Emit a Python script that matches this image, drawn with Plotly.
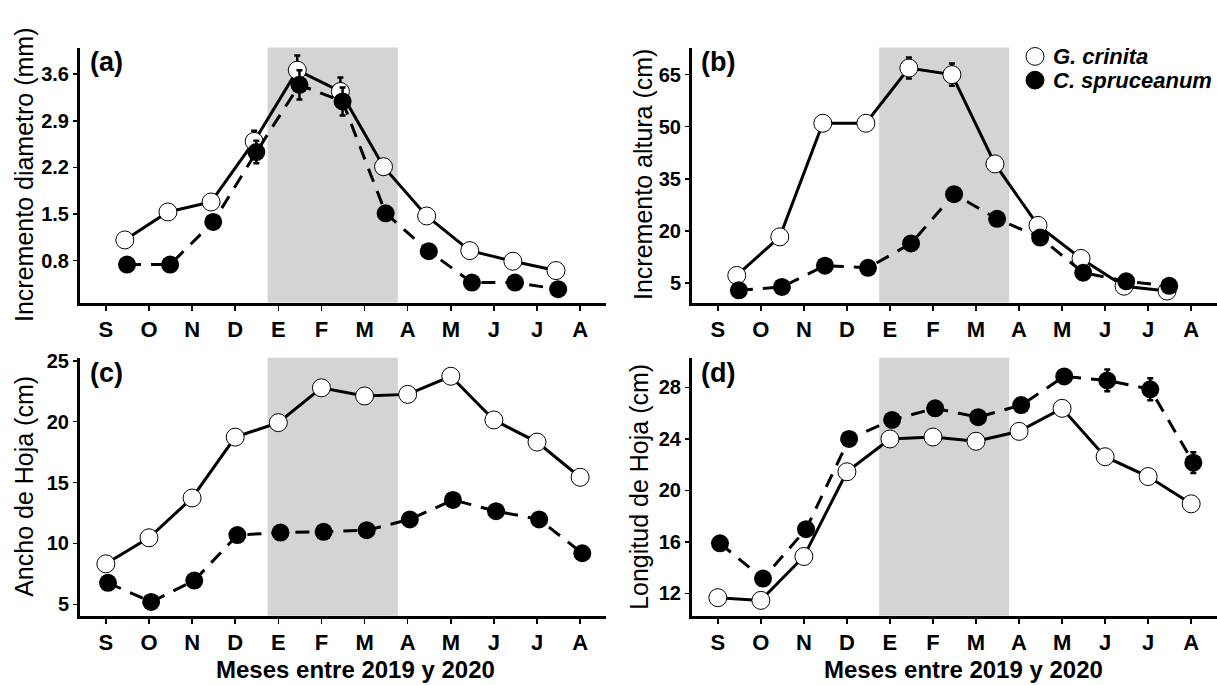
import plotly.graph_objects as go

W, H = 1217, 685

# ---------------- data ----------------
meses = ["S", "O", "N", "D", "E", "F", "M", "A", "M", "J", "J", "A"]

# (a) Incremento diametro (mm) - 11 monthly increments
gc_diam = [1.11, 1.53, 1.68, 2.59, 3.66, 3.34, 2.21, 1.47, 0.95, 0.79, 0.65]
cs_diam = [0.74, 0.74, 1.38, 2.43, 3.44, 3.19, 1.51, 0.94, 0.47, 0.47, 0.37]
gc_diam_se = [0.04, 0.04, 0.05, 0.16, 0.22, 0.21, 0.06, 0.05, 0.04, 0.03, 0.03]
cs_diam_se = [0.04, 0.04, 0.06, 0.17, 0.22, 0.21, 0.07, 0.08, 0.05, 0.05, 0.05]

# (b) Incremento altura (cm)
gc_alt = [7.2, 18.3, 51.0, 51.0, 66.9, 65.0, 39.3, 21.6, 12.1, 4.1, 2.7]
cs_alt = [2.9, 3.9, 10.0, 9.4, 16.4, 30.6, 23.5, 18.1, 8.0, 5.5, 4.2]
gc_alt_se = [0.8, 1.0, 1.0, 1.0, 3.0, 3.2, 1.2, 1.0, 0.8, 0.5, 0.5]
cs_alt_se = [0.5, 0.6, 0.8, 0.8, 1.0, 1.2, 1.0, 1.0, 0.8, 0.6, 0.6]

# (c) Ancho de Hoja (cm)
gc_ancho = [8.32, 10.46, 13.73, 18.73, 19.92, 22.78, 22.11, 22.24, 23.73, 20.14, 18.32, 15.43]
cs_ancho = [6.76, 5.19, 6.95, 10.68, 10.89, 10.95, 11.08, 11.97, 13.57, 12.65, 11.97, 9.19]
gc_ancho_se = [0.2, 0.2, 0.2, 0.2, 0.2, 0.2, 0.2, 0.2, 0.2, 0.2, 0.2, 0.2]
cs_ancho_se = [0.3, 0.3, 0.3, 0.3, 0.3, 0.3, 0.3, 0.3, 0.3, 0.3, 0.3, 0.3]

# (d) Longitud de Hoja (cm)
gc_long = [11.67, 11.46, 14.87, 21.45, 24.0, 24.15, 23.82, 24.59, 26.38, 22.62, 21.08, 18.96]
cs_long = [15.89, 13.15, 16.99, 24.0, 25.48, 26.38, 25.69, 26.63, 28.86, 28.55, 27.86, 22.16]
gc_long_se = [0.2, 0.2, 0.2, 0.2, 0.2, 0.2, 0.2, 0.2, 0.2, 0.2, 0.2, 0.2]
cs_long_se = [0.3, 0.3, 0.3, 0.3, 0.3, 0.3, 0.3, 0.3, 0.5, 0.85, 0.85, 0.8]

# shaded season (month index)
shade_start, shade_end = 3.75, 6.77

# ---------------- helpers ----------------
FONT = "Arial, Liberation Sans, sans-serif"


def px(x):
    return x / W


def py(y):
    return 1 - y / H


panels = [
    dict(lab="(a)", sfx="", xdom=(80, 606), ydom=(40, 298), yr=(0.17, 4.0),
         yt=[0.8, 1.5, 2.2, 2.9, 3.6], title="Incremento diametro (mm)",
         gc=gc_diam, cs=cs_diam, gse=gc_diam_se, cse=cs_diam_se,
         off=(0.44, 0.49), ytx=24, labx=88, xtitle=False),
    dict(lab="(b)", sfx="2", xdom=(692, 1217), ydom=(40, 298), yr=(-0.6, 72.8),
         yt=[5, 20, 35, 50, 65], title="Incremento altura (cm)",
         gc=gc_alt, cs=cs_alt, gse=gc_alt_se, cse=cs_alt_se,
         off=(0.44, 0.49), ytx=643, labx=699, xtitle=False),
    dict(lab="(c)", sfx="3", xdom=(80, 606), ydom=(354, 615), yr=(4.05, 25.24),
         yt=[5, 10, 15, 20, 25], title="Ancho de Hoja (cm)",
         gc=gc_ancho, cs=cs_ancho, gse=gc_ancho_se, cse=cs_ancho_se,
         off=(0.0, 0.05), ytx=24, labx=88, xtitle=True, xtc=355),
    dict(lab="(d)", sfx="4", xdom=(692, 1217), ydom=(354, 615), yr=(10.26, 30.3),
         yt=[12, 16, 20, 24, 28], title="Longitud de Hoja (cm)",
         gc=gc_long, cs=cs_long, gse=gc_long_se, cse=cs_long_se,
         off=(0.0, 0.05), ytx=639, labx=699, xtitle=True, xtc=963),
]

fig = go.Figure()
layout = dict(
    width=W, height=H, margin=dict(l=0, r=0, t=0, b=0),
    paper_bgcolor="white", plot_bgcolor="white", showlegend=False,
    font=dict(family=FONT, color="black"),
)
shapes = []
annotations = []

for p in panels:
    s = p["sfx"]
    xa, ya = "x" + s, "y" + s
    n = len(p["gc"])
    x_gc = [i + p["off"][0] for i in range(n)]
    x_cs = [i + p["off"][1] for i in range(n)]

    fig.add_trace(go.Scatter(
        x=x_gc, y=p["gc"], xaxis=xa, yaxis=ya, mode="lines+markers",
        name="G. crinita",
        line=dict(color="black", width=3),
        marker=dict(symbol="circle", size=18, color="white",
                    line=dict(color="black", width=1)),
        error_y=dict(type="data", array=p["gse"], color="black", thickness=2.5, width=3),
    ))
    fig.add_trace(go.Scatter(
        x=x_cs, y=p["cs"], xaxis=xa, yaxis=ya, mode="lines+markers",
        name="C. spruceanum",
        line=dict(color="black", width=3, dash="14px,10px"),
        marker=dict(symbol="circle", size=18, color="black",
                    line=dict(color="black", width=0)),
        error_y=dict(type="data", array=p["cse"], color="black", thickness=2.5, width=3),
    ))

    layout["xaxis" + s] = dict(
        domain=[px(p["xdom"][0]), px(p["xdom"][1])], anchor=ya,
        range=[-0.6, 11.6], tickvals=list(range(12)), ticktext=meses,
        showgrid=False, zeroline=False, showline=True, linecolor="black", linewidth=3,
        ticks="outside", ticklen=5, tickwidth=1.5, tickcolor="black",
        tickfont=dict(family=FONT, size=22, color="black", weight="bold"),
        fixedrange=True,
    )
    layout["yaxis" + s] = dict(
        domain=[py(p["ydom"][1]), py(p["ydom"][0])], anchor=xa,
        range=list(p["yr"]), tickvals=p["yt"],
        showgrid=False, zeroline=False, showline=True, linecolor="black", linewidth=3,
        ticks="outside", ticklen=4, tickwidth=1.5, tickcolor="black",
        tickfont=dict(family=FONT, size=20, color="black", weight="bold"),
        fixedrange=True,
    )

    shapes.append(dict(
        type="rect", xref=xa, yref=ya + " domain",
        x0=shade_start, x1=shade_end, y0=0, y1=1,
        fillcolor="#d4d4d4", line=dict(width=0), layer="below",
    ))

    annotations.append(dict(
        text="<b>" + p["lab"] + "</b>", xref="paper", yref="paper",
        x=px(p["labx"]), y=py(p["ydom"][0] + 15), xanchor="left", yanchor="middle",
        showarrow=False, font=dict(family=FONT, size=27, color="black"),
    ))
    annotations.append(dict(
        text=p["title"], xref="paper", yref="paper", textangle=-90,
        x=px(p["ytx"]), y=py((p["ydom"][0] + p["ydom"][1]) / 2),
        xanchor="center", yanchor="middle", showarrow=False,
        font=dict(family=FONT, size=25, color="black"),
    ))
    if p["xtitle"]:
        annotations.append(dict(
            text="<b>Meses entre 2019 y 2020</b>", xref="paper", yref="paper",
            x=px(p["xtc"]), y=py(669), xanchor="center", yanchor="middle",
            showarrow=False, font=dict(family=FONT, size=24, color="black"),
        ))

# legend (manual) in panel (b)
leg_items = [("G. crinita", "white", 49), ("C. spruceanum", "black", 73)]
r = 9
for name, fill, yc in leg_items:
    shapes.append(dict(
        type="circle", xref="paper", yref="paper",
        x0=px(1035 - r), x1=px(1035 + r), y0=py(yc + r), y1=py(yc - r),
        fillcolor=fill, line=dict(color="black", width=1), layer="above",
    ))
    annotations.append(dict(
        text="<b><i>" + name + "</i></b>", xref="paper", yref="paper",
        x=px(1051), y=py(yc), xanchor="left", yanchor="middle", showarrow=False,
        font=dict(family=FONT, size=22, color="black"),
    ))

layout["shapes"] = shapes
layout["annotations"] = annotations
fig.update_layout(**layout)

fig.write_html(
    "out.html",
    config=dict(displayModeBar=False, staticPlot=True),
    post_script="document.body.style.margin='0px';document.body.style.overflow='hidden';",
)
